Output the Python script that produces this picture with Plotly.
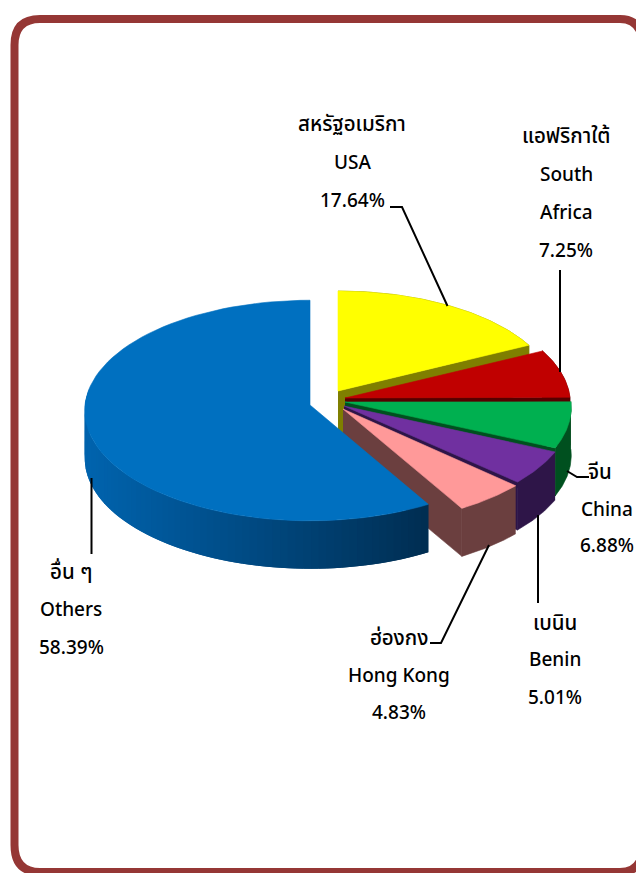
import numpy as np
import plotly.graph_objects as go

names_th = ["สหรัฐอเมริกา", "แอฟริกาใต้", "จีน", "เบนิน", "ฮ่องกง", "อื่น ๆ"]
names_en = ["USA", "South<br>Africa", "China", "Benin", "Hong Kong", "Others"]
shares = [17.64, 7.25, 6.88, 5.01, 4.83, 58.39]

top_colors = ["#ffff00", "#c00000", "#00b050", "#7030a0", "#ff9999", "#0070c0"]
side_colors = ["#7f7f00", "#560000", "#00501f", "#2e1548", "#6b3f3f", None]

# where each exploded slice has its tip, and how wide it draws
tips = [(338, 391), (345, 398), (345, 402), (344, 406), (343, 409), (310, 405)]
radii = [(218, 105), (225, 109), (226, 109), (227, 109), (226, 110), (225, 110)]
DEPTH = 48
PERSP = 0.05


def rim(theta, tip, r):
    s = 1 / (1 + PERSP * np.cos(theta))
    return tip[0] + r[0] * np.sin(theta) * s, tip[1] - r[1] * np.cos(theta) * s


def blue_side(t):
    # t 0 at the front right end, 1 at the far left
    c0, c1 = np.array([0, 40, 72]), np.array([0, 99, 173])
    c = c0 + (c1 - c0) * t
    return "rgb(%d,%d,%d)" % tuple(c)


fig = go.Figure()


def poly(x, y, color, width=0.6):
    fig.add_trace(go.Scatter(x=x, y=y, mode="lines", fill="toself", fillcolor=color,
                             line=dict(color=color, width=width), hoverinfo="skip", showlegend=False))


ends = np.cumsum(shares) / 100 * 2 * np.pi
starts = np.r_[0, ends[:-1]]

for i in range(len(shares)):
    a, b = starts[i], ends[i]
    tip, r = tips[i], radii[i]
    # cut face on the clockwise end
    ex, ey = rim(b, tip, r)
    if side_colors[i]:
        poly([tip[0], ex, ex, tip[0]], [tip[1], ey, ey + DEPTH, tip[1] + DEPTH], side_colors[i])
    # outer wall
    th = np.linspace(a, b, 80)
    xr, yr = rim(th, tip, r)
    if side_colors[i]:
        poly(np.r_[xr, xr[::-1]], np.r_[yr, yr[::-1] + DEPTH], side_colors[i])
    else:
        lo = a
        hi = min(b, 1.55 * np.pi)
        edges = np.linspace(lo, hi, 70)
        step = edges[1] - edges[0]
        xmin, xmax = rim(hi, tip, r)[0], rim(lo, tip, r)[0]
        # each band runs on under the next one so no seams show
        for e0, e1 in zip(edges[:-1], edges[1:]):
            seg = np.linspace(e0 - step if e0 > lo else e0, e1, 5)
            sx, sy = rim(seg, tip, r)
            t = (xmax + 30 - rim((e0 + e1) / 2, tip, r)[0]) / (xmax + 30 - xmin)
            poly(np.r_[sx[::-1], sx], np.r_[sy[::-1], sy + DEPTH], blue_side(min(t, 1)), width=0)
    # top face
    poly(np.r_[tip[0], xr, tip[0]], np.r_[tip[1], yr, tip[1]], top_colors[i])

# label blocks: centre x, centre y of each line, and one leader path each
label_pos = [
    (352, [123, 162, 200]),
    (566, [135, 174, 212, 250]),
    (607, [471, 509, 545]),
    (555, [622, 659, 697]),
    (399, [637, 675, 712]),
    (71, [571, 609, 647]),
]
leaders = [
    "M390,207 L402,207 L447.5,306",
    "M560,270 L560,372",
    "M567,471 L577,477 L589,477",
    "M538,515 L538,603",
    "M489,545 L441,643 L430,643",
    "M91.5,478 L91.5,554",
]

annotations = []
for i, (cx, ys) in enumerate(label_pos):
    lines = [names_th[i]] + names_en[i].split("<br>") + ["%.2f%%" % shares[i]]
    for j, (txt, y) in enumerate(zip(lines, ys)):
        x = 600 if (i == 2 and j == 0) else cx
        size = 20.5 if j == 0 else 19
        annotations.append(dict(x=x, y=y, text=txt, showarrow=False, xref="x", yref="y",
                                xanchor="center", yanchor="middle",
                                font=dict(size=size, color="#000000", weight=500)))

shapes = [dict(type="path", path=p, xref="x", yref="y", line=dict(color="black", width=2)) for p in leaders]
shapes.append(dict(type="path", xref="x", yref="y", line=dict(color="#953735", width=8),
                   path="M14.5,45 Q14.5,19 40,19 L620,19 Q643,19 643,48 L643,845 Q643,872 620,872 "
                        "L40,872 Q14.5,872 14.5,845 Z"))

fig.update_layout(
    width=636, height=873, margin=dict(l=0, r=0, t=0, b=0),
    paper_bgcolor="white", plot_bgcolor="white", showlegend=False,
    font=dict(family="Noto Sans, Noto Sans Thai, sans-serif"),
    xaxis=dict(range=[0, 636], visible=False, fixedrange=True),
    yaxis=dict(range=[873, 0], visible=False, fixedrange=True),
    annotations=annotations, shapes=shapes,
)
fig.write_html("out.html", config=dict(displayModeBar=False),
               post_script="document.body.style.margin='0';document.body.style.overflow='hidden';")
